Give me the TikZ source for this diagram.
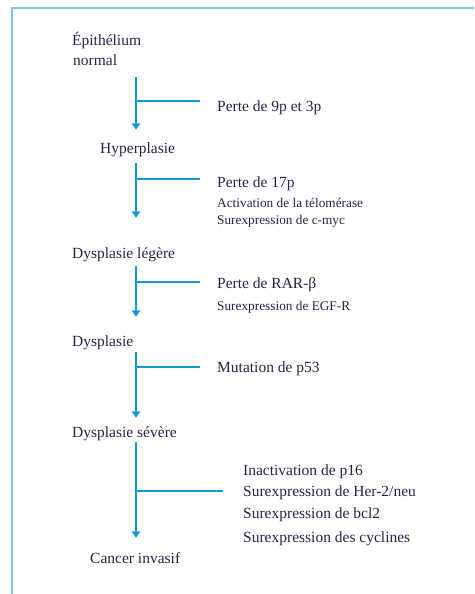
\documentclass[tikz,border=0pt]{standalone}
\usepackage{fontspec}
\setmainfont{Liberation Serif}
\usetikzlibrary{arrows.meta}
\definecolor{flowblue}{RGB}{20,155,215}
\definecolor{frameblue}{RGB}{125,195,235}
\definecolor{textink}{RGB}{40,35,70}
\tikzstyle{stage}=[
  inner sep=0,
  text height=10pt,
  text depth=3pt,
  text=textink,
  anchor=west,
  yshift=-2pt,
  font=\fontsize{15.5}{18}\selectfont
]
\tikzstyle{change}=[stage]
\tikzstyle{minor}=[stage, font=\fontsize{13.3}{16}\selectfont]
\tikzstyle{flow}=[draw=flowblue, line width=1.8pt, -{Triangle[width=8.5pt,length=6.5pt]}]
\tikzstyle{branch}=[draw=flowblue, line width=1.8pt]

\begin{document}
\begin{tikzpicture}[x=1pt,y=-1pt]
  \useasboundingbox (0,0) rectangle (474,594);

  % frame
  \draw[frameblue, line width=2pt] (474,8) -- (12,8) -- (12,594);

  % stages
  \node[stage] (s0a) at (72,40) {Épithélium};
  \node[stage] (s0b) at (73,60) {normal};
  \node[stage] (s1) at (100,148) {Hyperplasie};
  \node[stage] (s2) at (72,253) {Dysplasie légère};
  \node[stage] (s3) at (72,341) {Dysplasie};
  \node[stage] (s4) at (72,432) {Dysplasie sévère};
  \node[stage] (s5) at (90,558) {Cancer invasif};

  % changes
  \node[change] (l1) at (217,106) {Perte de 9p et 3p};
  \node[change] (l2) at (217,182) {Perte de 17p};
  \node[minor] (l2b) at (217,202) {Activation de la télomérase};
  \node[minor] (l2c) at (217,219) {Surexpression de c-myc};
  \node[change] (l3) at (217,283) {Perte de RAR-β};
  \node[minor] (l3b) at (217,305) {Surexpression de EGF-R};
  \node[change] (l4) at (217,367) {Mutation de p53};
  \node[change] (l5) at (243,470) {Inactivation de p16};
  \node[change] (l5b) at (243,491) {Surexpression de Her-2/neu};
  \node[change] (l5c) at (243,513) {Surexpression de bcl2};
  \node[change] (l5d) at (243,537) {Surexpression des cyclines};

  % axis and branch points
  \coordinate (ax) at (136,0);
  \coordinate (b1) at (136,101);
  \coordinate (b2) at (136,179);
  \coordinate (b3) at (136,282);
  \coordinate (b4) at (136,367);
  \coordinate (b5) at (136,491);

  % connect stages
  \foreach \from/\to/\sa/\sb in {s0b/s1/8.5/13.5, s1/s2/6.5/30.5, s2/s3/4.5/19.5, s3/s4/2.5/9.5, s4/s5/1.5/15.5}{
    \draw[flow, shorten <=\sa pt, shorten >=\sb pt] (\from.south -| ax) -- (\to.north -| ax);
  }

  % connect changes
  \foreach \i/\s in {1/17, 2/17, 3/17, 4/17, 5/20}{
    \draw[branch, shorten >=\s pt] (b\i) -- (b\i -| l\i.west);
  }
\end{tikzpicture}
\end{document}
